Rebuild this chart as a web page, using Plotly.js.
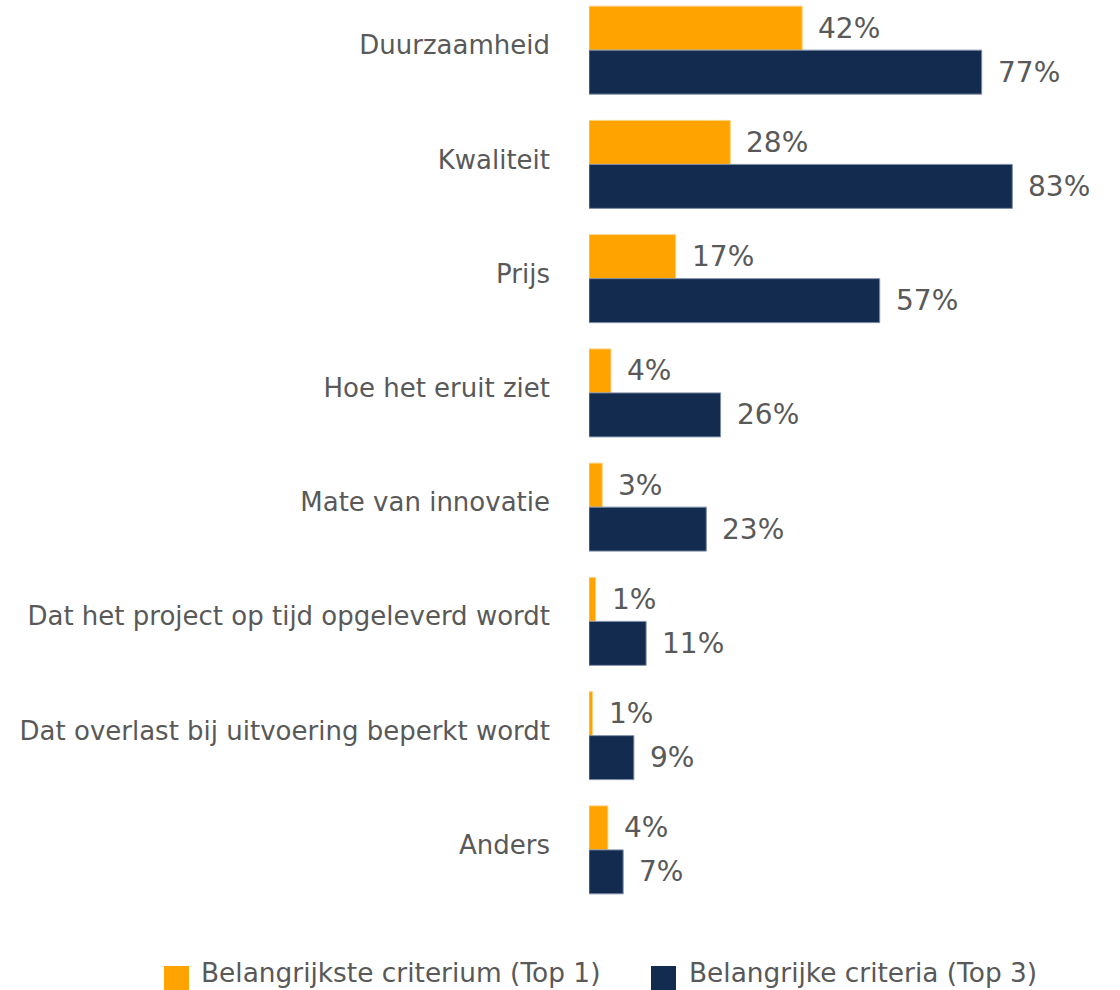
<!DOCTYPE html>
<html>
<head>
<meta charset="utf-8">
<script src="https://cdn.plot.ly/plotly-3.0.1.min.js"></script>
<style>html,body{margin:0;padding:0;background:#fff;}#chart{width:1120px;height:990px;}</style>
</head>
<body>
<div id="chart"></div>
<script>
const categories = [
  "Duurzaamheid",
  "Kwaliteit",
  "Prijs",
  "Hoe het eruit ziet",
  "Mate van innovatie",
  "Dat het project op tijd opgeleverd wordt",
  "Dat overlast bij uitvoering beperkt wordt",
  "Anders"
];
const top1Values = [41.8, 27.7, 17, 4.3, 2.6, 1.3, 0.7, 3.7];
const top3Values = [77, 83, 57, 25.8, 23, 11.2, 8.8, 6.7];
const seriesNames = ["Belangrijkste criterium (Top 1)", "Belangrijke criteria (Top 3)"];
const seriesColors = ["#FFA300", "#132B4F"];

const FONT = "'DejaVu Sans', sans-serif";
const TXT = "#595959";

const traces = [
  {type: "bar", orientation: "h", name: seriesNames[0], y: categories, x: top1Values,
   marker: {color: seriesColors[0], line: {width: 1, color: "#FFD27F"}}, hoverinfo: "skip"},
  {type: "bar", orientation: "h", name: seriesNames[1], y: categories, x: top3Values,
   marker: {color: seriesColors[1], line: {width: 1, color: "#7F8FA8"}}, hoverinfo: "skip"}
];

const annotations = [];
[top1Values, top3Values].forEach((vals, s) => {
  vals.forEach((v, i) => {
    annotations.push({
      x: v, y: categories[i], xref: "x", yref: "y",
      text: Math.round(v) + "%", showarrow: false,
      xanchor: "left", yanchor: "middle",
      xshift: 14, yshift: s === 0 ? 22 : -22,
      font: {family: FONT, size: 28, color: TXT}
    });
  });
});

// custom legend
const W = 510, H = 907, L = 589;
const px = x => (x - L) / W;
const py = y => (H - y) / H;
const legendItems = [
  {sq: 164, tx: 199},
  {sq: 651, tx: 687}
];
const shapes = [];
legendItems.forEach((it, s) => {
  shapes.push({type: "rect", xref: "paper", yref: "paper",
    x0: px(it.sq), x1: px(it.sq + 25), y0: py(966), y1: py(990),
    fillcolor: seriesColors[s], line: {width: 0}});
  annotations.push({xref: "paper", yref: "paper", x: px(it.tx), y: py(972),
    text: seriesNames[s], showarrow: false, xanchor: "left", yanchor: "middle",
    font: {family: FONT, size: 26.4, color: TXT}});
});

const layout = {
  width: 1120, height: 990,
  margin: {l: L, r: 1120 - L - W, t: 0, b: 990 - H, pad: 0},
  paper_bgcolor: "#fff", plot_bgcolor: "#fff",
  barmode: "group", bargap: 0.23, bargroupgap: 0,
  showlegend: false,
  font: {family: FONT, color: TXT},
  xaxis: {range: [0, 100], visible: false, fixedrange: true},
  yaxis: {type: "category", categoryorder: "array", categoryarray: categories,
    range: [7.5, -0.439], autorange: false, showgrid: false, zeroline: false,
    showline: false, ticks: "", ticklabelstandoff: 38, ticklabelshift: 5,
    tickfont: {family: FONT, size: 26, color: TXT}},
  annotations: annotations,
  shapes: shapes
};

Plotly.newPlot("chart", traces, layout, {staticPlot: true, displayModeBar: false});
</script>
</body>
</html>
